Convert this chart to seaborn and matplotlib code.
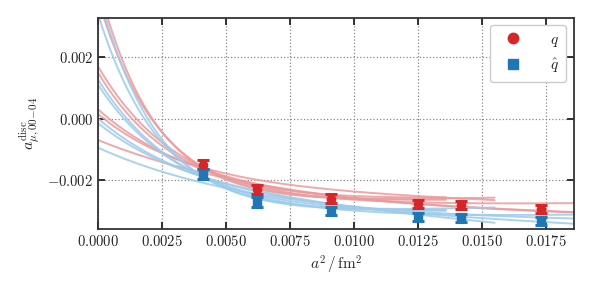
import numpy as np
import pandas as pd
import matplotlib
matplotlib.use("Agg")
import matplotlib.pyplot as plt
from matplotlib.lines import Line2D
import seaborn as sns

sns.set_theme(style="ticks")
plt.rcParams["font.family"] = "serif"
plt.rcParams["font.serif"] = ["cmr10", "DejaVu Serif"]
plt.rcParams["mathtext.fontset"] = "cm"
plt.rcParams["axes.formatter.use_mathtext"] = True
plt.rcParams["axes.unicode_minus"] = True

# lattice spacings a^2 [fm^2]
a2 = [0.0041, 0.0062, 0.0091, 0.0125, 0.0142, 0.0173]

# data points q and q-hat, with errors
q_val = [-0.00150, -0.00231, -0.00261, -0.00280, -0.00283, -0.00294]
q_err = [0.00016, 0.00016, 0.00014, 0.00013, 0.00013, 0.00013]
qh_val = [-0.00180, -0.00271, -0.00302, -0.00321, -0.00325, -0.00334]
qh_err = [0.00016, 0.00016, 0.00014, 0.00013, 0.00013, 0.00013]

# fit curves: y = c + s*a2 + A*exp(-a2/L), drawn from 0 to x_end
q_fit_c = [-0.0029, -0.0028, -0.00296, -0.0029, -0.002567, -0.002198, -0.003292]
q_fit_s = [0.02, 0.01, 0.01, 0.02, -0.0275, -0.0316, 0.0]
q_fit_A = [0.0068, 0.0072, 0.00466, 0.0044, 0.002867, 0.002348, 0.002592]
q_fit_L = [0.0024, 0.002225, 0.00325, 0.0031, 0.004, 0.0035, 0.00768]
q_fit_end = [0.0155, 0.0136, 0.0190, 0.0136, 0.0190, 0.0155, 0.0190]

qh_fit_c = [-0.0033, -0.0032, -0.0034, -0.0033, -0.002707, -0.002227, -0.0034]
qh_fit_s = [0.025, 0.015, 0.013, 0.015, -0.0403, -0.0772, 0.0]
qh_fit_A = [0.0067, 0.00737, 0.00467, 0.0044, 0.002707, 0.002077, 0.00245]
qh_fit_L = [0.0025, 0.0023, 0.0035, 0.00345, 0.004, 0.0035, 0.0065]
qh_fit_end = [0.0155, 0.0136, 0.0190, 0.0136, 0.0190, 0.0155, 0.0190]

red = "#d62728"
blue = "#1f77b4"


def fit_frame(name, cs, ss, As, Ls, ends):
    rows = []
    for i, (c, s, A, L, xe) in enumerate(zip(cs, ss, As, Ls, ends)):
        x = np.linspace(0, xe, 300)
        y = c + s * x + A * np.exp(-x / L)
        rows.append(pd.DataFrame({"x": x, "y": y, "fit": f"{name}{i}", "quark": name}))
    return pd.concat(rows)


df = pd.concat([
    fit_frame("q", q_fit_c, q_fit_s, q_fit_A, q_fit_L, q_fit_end),
    fit_frame("qh", qh_fit_c, qh_fit_s, qh_fit_A, qh_fit_L, qh_fit_end),
])

fig = plt.figure(figsize=(5.91, 2.92), dpi=100)
ax = fig.add_axes([0.166, 0.216, 0.805, 0.724])

sns.lineplot(data=df, x="x", y="y", units="fit", hue="quark", estimator=None,
             palette={"q": "#eb9a9c", "qh": "#9dcbea"}, lw=1.4, alpha=0.85,
             legend=False, ax=ax, zorder=2)

ax.errorbar(a2, q_val, yerr=q_err, fmt="o", color=red, ms=6, capsize=4,
            elinewidth=2.2, capthick=2.2, zorder=5)
ax.errorbar(a2, qh_val, yerr=qh_err, fmt="s", color=blue, ms=5.5, capsize=4,
            elinewidth=2.2, capthick=2.2, zorder=5)

ax.set_xlim(0, 0.0186)
ax.set_ylim(-0.0036, 0.0033)
ax.set_xticks(np.arange(0, 0.0176, 0.0025))
ax.set_yticks([-0.002, 0.0, 0.002])
ax.xaxis.set_major_formatter(matplotlib.ticker.FuncFormatter(lambda v, p: f"${v:.4f}$"))
ax.yaxis.set_major_formatter(matplotlib.ticker.FuncFormatter(lambda v, p: f"${v:.3f}$"))

ax.grid(True, ls=":", color="#888888", lw=0.9)
ax.tick_params(direction="in", top=True, right=True, length=5, width=1.3,
               labelsize=10.5, colors="#222222")
for sp in ax.spines.values():
    sp.set_linewidth(1.3)
    sp.set_color("#333333")

ax.set_xlabel(r"$a^2\,/\,\mathrm{fm}^2$", fontsize=11)
ax.set_ylabel(r"$a_{\mu,00\!-\!04}^{\mathrm{disc}}$", fontsize=11.5)

handles = [Line2D([], [], marker="o", ls="", color=red, ms=7.5),
           Line2D([], [], marker="s", ls="", color=blue, ms=6.5)]
ax.legend(handles, [r"$q$", r"$\hat{q}$"], loc="upper right", fontsize=11,
          handletextpad=1.4, borderpad=0.5, fancybox=True,
          edgecolor="#cccccc", framealpha=1.0)

fig.savefig("out.png", dpi=100)
